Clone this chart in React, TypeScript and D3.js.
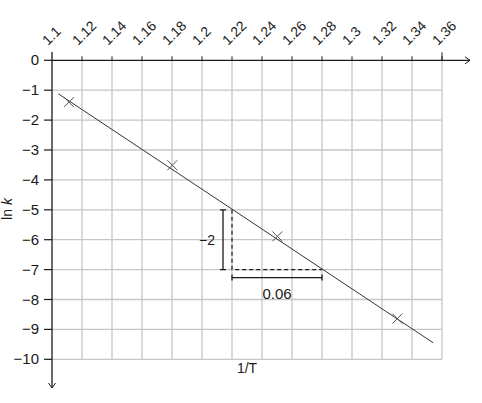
import { useEffect, useRef } from 'react'
import * as d3 from 'd3'

// 1/T tick values along the top axis
const xTicks = [1.1, 1.12, 1.14, 1.16, 1.18, 1.2, 1.22, 1.24, 1.26, 1.28, 1.3, 1.32, 1.34, 1.36]
const yTicks = [0, -1, -2, -3, -4, -5, -6, -7, -8, -9, -10]

// measured points (1/T, ln k)
const invT = [1.1113, 1.1802, 1.2502, 1.3302]
const lnK = [-1.4, -3.51, -5.89, -8.64]

// best-fit line end points
const lineX = [1.1042, 1.3542]
const lineY = [-1.12, -9.45]

// gradient triangle
const triX = [1.22, 1.28]
const triY = [-5, -7]

export default function App() {
  const ref = useRef<SVGSVGElement | null>(null)

  useEffect(() => {
    const svg = d3.select(ref.current)
    svg.selectAll('*').remove()
    const font = '"Liberation Sans", Arial, sans-serif'
    const grid = '#c6c6c6'
    const ink = '#1a1a1a'

    const x = d3.scaleLinear().domain([1.1, 1.36]).range([52, 442])
    const y = d3.scaleLinear().domain([0, -10]).range([60.3, 359.3])

    const g = svg.append('g')

    // grid
    g.selectAll('line.vg')
      .data(xTicks.slice(1))
      .enter()
      .append('line')
      .attr('x1', (d) => x(d))
      .attr('x2', (d) => x(d))
      .attr('y1', y(0))
      .attr('y2', y(-10))
      .attr('stroke', grid)
      .attr('stroke-width', 1.3)
    g.selectAll('line.hg')
      .data(yTicks.slice(1))
      .enter()
      .append('line')
      .attr('x1', x(1.1))
      .attr('x2', x(1.36))
      .attr('y1', (d) => y(d))
      .attr('y2', (d) => y(d))
      .attr('stroke', grid)
      .attr('stroke-width', 1.3)

    // 1.36 gridline pokes above the axis
    g.append('line')
      .attr('x1', x(1.36)).attr('x2', x(1.36))
      .attr('y1', y(0) - 8).attr('y2', y(0))
      .attr('stroke', ink).attr('stroke-width', 1)

    // axes
    g.append('line')
      .attr('x1', x(1.1)).attr('x2', 470)
      .attr('y1', y(0)).attr('y2', y(0))
      .attr('stroke', ink).attr('stroke-width', 1.3)
    g.append('path')
      .attr('d', `M465,${y(0) - 3.5}L470,${y(0)}L465,${y(0) + 3.5}`)
      .attr('fill', 'none').attr('stroke', ink).attr('stroke-width', 1)
    g.append('line')
      .attr('x1', x(1.1)).attr('x2', x(1.1))
      .attr('y1', 52).attr('y2', 388)
      .attr('stroke', ink).attr('stroke-width', 1.3)
    g.append('path')
      .attr('d', `M${x(1.1) - 3.5},383L${x(1.1)},388L${x(1.1) + 3.5},383`)
      .attr('fill', 'none').attr('stroke', ink).attr('stroke-width', 1)

    // ticks
    g.selectAll('line.xt')
      .data(xTicks.slice(1))
      .enter()
      .append('line')
      .attr('x1', (d) => x(d)).attr('x2', (d) => x(d))
      .attr('y1', y(0) - 4).attr('y2', y(0))
      .attr('stroke', ink).attr('stroke-width', 1)
    g.selectAll('line.yt')
      .data(yTicks)
      .enter()
      .append('line')
      .attr('x1', x(1.1) - 8).attr('x2', x(1.1))
      .attr('y1', (d) => y(d)).attr('y2', (d) => y(d))
      .attr('stroke', ink).attr('stroke-width', 1.2)

    // tick labels
    g.selectAll('text.xl')
      .data(xTicks)
      .enter()
      .append('text')
      .attr('transform', (d) => `translate(${x(d) - 4},46) rotate(-45)`)
      .attr('font-family', font)
      .attr('font-size', 14)
      .attr('fill', ink)
      .text((d) => d3.format('~g')(d))
    g.selectAll('text.yl')
      .data(yTicks)
      .enter()
      .append('text')
      .attr('x', 39)
      .attr('y', (d) => y(d) + 5)
      .attr('text-anchor', 'end')
      .attr('font-family', font)
      .attr('font-size', 15)
      .attr('fill', ink)
      .text((d) => (d < 0 ? '\u2212' + Math.abs(d) : String(d)))

    // axis titles
    const yl = g.append('text')
      .attr('transform', `translate(12,209) rotate(-90)`)
      .attr('text-anchor', 'middle')
      .attr('font-family', font)
      .attr('font-size', 14)
      .attr('fill', ink)
    yl.append('tspan').text('ln ')
    yl.append('tspan').attr('font-style', 'italic').text('k')
    g.append('text')
      .attr('x', 247)
      .attr('y', 373)
      .attr('text-anchor', 'middle')
      .attr('font-family', font)
      .attr('font-size', 14)
      .attr('fill', ink)
      .text('1/T')

    // best-fit line
    g.append('line')
      .attr('x1', x(lineX[0])).attr('y1', y(lineY[0]))
      .attr('x2', x(lineX[1])).attr('y2', y(lineY[1]))
      .attr('stroke', '#333').attr('stroke-width', 1)

    // crosses
    const pts = invT.map((v, i) => ({ x: v, y: lnK[i] }))
    g.selectAll('path.pt')
      .data(pts)
      .enter()
      .append('path')
      .attr('d', (d) => {
        const cx = x(d.x), cy = y(d.y), r = 5
        return `M${cx - r},${cy - r}L${cx + r},${cy + r}M${cx - r},${cy + r}L${cx + r},${cy - r}`
      })
      .attr('stroke', '#555').attr('stroke-width', 1).attr('fill', 'none')

    // gradient triangle (dashed)
    g.append('path')
      .attr('d', `M${x(triX[0])},${y(triY[0])}L${x(triX[0])},${y(triY[1])}L${x(triX[1])},${y(triY[1])}`)
      .attr('fill', 'none').attr('stroke', ink).attr('stroke-width', 1.2)
      .attr('stroke-dasharray', '4 3')

    // dimension brackets
    const bx = x(triX[0]) - 9
    g.append('path')
      .attr('d', `M${bx},${y(triY[0])}L${bx},${y(triY[1])}M${bx - 3},${y(triY[0])}L${bx + 3},${y(triY[0])}M${bx - 3},${y(triY[1])}L${bx + 3},${y(triY[1])}`)
      .attr('fill', 'none').attr('stroke', ink).attr('stroke-width', 1.3)
    const by = y(triY[1]) + 8
    g.append('path')
      .attr('d', `M${x(triX[0])},${by}L${x(triX[1])},${by}M${x(triX[0])},${by - 3}L${x(triX[0])},${by + 3}M${x(triX[1])},${by - 3}L${x(triX[1])},${by + 3}`)
      .attr('fill', 'none').attr('stroke', ink).attr('stroke-width', 1.3)
    g.append('text')
      .attr('x', bx - 8)
      .attr('y', y(-6) + 5)
      .attr('text-anchor', 'end')
      .attr('font-family', font)
      .attr('font-size', 14)
      .attr('fill', ink)
      .text('\u22122')
    g.append('text')
      .attr('x', (x(triX[0]) + x(triX[1])) / 2)
      .attr('y', by + 21)
      .attr('text-anchor', 'middle')
      .attr('font-family', font)
      .attr('font-size', 15)
      .attr('fill', ink)
      .text('0.06')
  }, [])

  return (
    <svg
      ref={ref}
      width={482}
      height={403}
      style={{ position: 'absolute', left: 0, top: 0, background: '#fff' }}
    />
  )
}
